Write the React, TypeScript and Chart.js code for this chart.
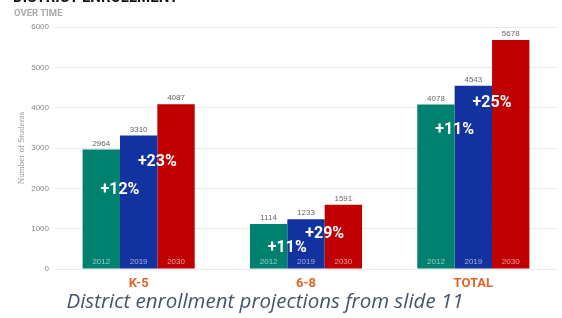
import React, { useEffect, useRef } from "react";
import { Chart, registerables } from "chart.js";

Chart.register(...registerables);

const categories = ["K-5", "6-8", "TOTAL"];
const years = ["2012", "2019", "2030"];
const values2012 = [2964, 1114, 4078];
const values2019 = [3310, 1233, 4543];
const values2030 = [4087, 1591, 5678];
// where the growth labels sit (in students, on the y axis)
const growthLabelAt1 = [1960, 520, 3450];
const growthLabelAt2 = [2650, 870, 4120];
const yTicks = [0, 1000, 2000, 3000, 4000, 5000, 6000];

const colors = ["#00806e", "#1232a0", "#c00000"];

const labelPlugin = {
  id: "labels",
  afterDatasetsDraw(chart: any) {
    const ctx = chart.ctx;
    const y = chart.scales.y;
    ctx.save();
    ctx.textAlign = "center";
    chart.data.datasets.forEach((ds: any, di: number) => {
      const meta = chart.getDatasetMeta(di);
      meta.data.forEach((bar: any, i: number) => {
        ctx.fillStyle = "#666";
        ctx.font = "8px 'Liberation Sans', Arial, sans-serif";
        ctx.textBaseline = "bottom";
        ctx.fillText(String(ds.data[i]), bar.x, bar.y - 2);
        ctx.fillStyle = "rgba(255,255,255,0.6)";
        ctx.textBaseline = "middle";
        ctx.fillText(years[di], bar.x, y.getPixelForValue(0) - 7);
      });
    });
    const m0 = chart.getDatasetMeta(0);
    const m1 = chart.getDatasetMeta(1);
    const m2 = chart.getDatasetMeta(2);
    ctx.fillStyle = "#ffffff";
    ctx.font = "bold 16px Roboto, 'Liberation Sans', sans-serif";
    ctx.textBaseline = "middle";
    categories.forEach((_, i) => {
      const b0 = m0.data[i], b1 = m1.data[i], b2 = m2.data[i];
      const g1 = Math.round((values2019[i] / values2012[i] - 1) * 100);
      const g2 = Math.round((values2030[i] / values2019[i] - 1) * 100);
      const x1 = (b0.x + b0.width / 2 + b1.x - b1.width / 2) / 2;
      const x2 = (b1.x + b1.width / 2 + b2.x - b2.width / 2) / 2;
      ctx.fillText("+" + g1 + "%", x1, y.getPixelForValue(growthLabelAt1[i]));
      ctx.fillText("+" + g2 + "%", x2, y.getPixelForValue(growthLabelAt2[i]));
    });
    ctx.restore();
  },
};

export default function App() {
  const ref = useRef<HTMLCanvasElement>(null);
  useEffect(() => {
    document.body.style.margin = "0";
    const chart = new Chart(ref.current!, {
      type: "bar",
      data: {
        labels: categories,
        datasets: [values2012, values2019, values2030].map((d, i) => ({
          label: years[i],
          data: d,
          backgroundColor: colors[i],
          borderWidth: 0,
          barPercentage: 1,
          categoryPercentage: 0.67,
        })),
      },
      options: {
        animation: false,
        responsive: false,
        maintainAspectRatio: false,
        layout: { padding: { left: 0, right: 5, top: 27, bottom: 0 } },
        plugins: { legend: { display: false }, tooltip: { enabled: false } },
        scales: {
          x: {
            grid: { display: false, drawTicks: false },
            border: { display: false },
            ticks: {
              color: "#e0662a",
              font: { family: "Roboto, 'Liberation Sans', sans-serif", size: 13, weight: "bold" },
              padding: 7,
            },
            afterFit: (s: any) => { s.height = 49; },
          },
          y: {
            min: 0,
            max: 6000,
            afterBuildTicks: (s: any) => { s.ticks = yTicks.map((v) => ({ value: v })); },
            grid: { color: "#e8e8e8", drawTicks: false, lineWidth: 1 },
            border: { display: false },
            ticks: {
              color: "#888",
              font: { family: "'Liberation Sans', Arial, sans-serif", size: 8 },
              padding: 6,
              callback: (v: any) => String(v),
            },
            title: {
              display: true,
              text: "Number of Students",
              color: "#999",
              font: { family: "'Liberation Serif', serif", size: 9 },
              padding: { top: 16, bottom: 0 },
            },
            afterFit: (s: any) => { s.width = 55; },
          },
        },
      },
      plugins: [labelPlugin],
    });
    return () => chart.destroy();
  }, []);
  return (
    <div style={{ position: "relative", width: 562, height: 318, overflow: "hidden", background: "#fff" }}>
      <canvas ref={ref} width={562} height={318} style={{ position: "absolute", left: 0, top: 0 }} />
      <div style={{ position: "absolute", left: 13, top: -12, font: "bold 15px Roboto, sans-serif", color: "#111", whiteSpace: "nowrap" }}>
        DISTRICT ENROLLMENT
      </div>
      <div style={{ position: "absolute", left: 14, top: 7, font: "bold 9.5px Roboto, sans-serif", color: "#aaa", whiteSpace: "nowrap" }}>
        OVER TIME
      </div>
      <div style={{ position: "absolute", left: 0, width: 530, top: 286, textAlign: "center", font: "italic 20.5px 'Open Sans', sans-serif", color: "#44546a", whiteSpace: "nowrap" }}>
        District enrollment projections from slide 11
      </div>
    </div>
  );
}
